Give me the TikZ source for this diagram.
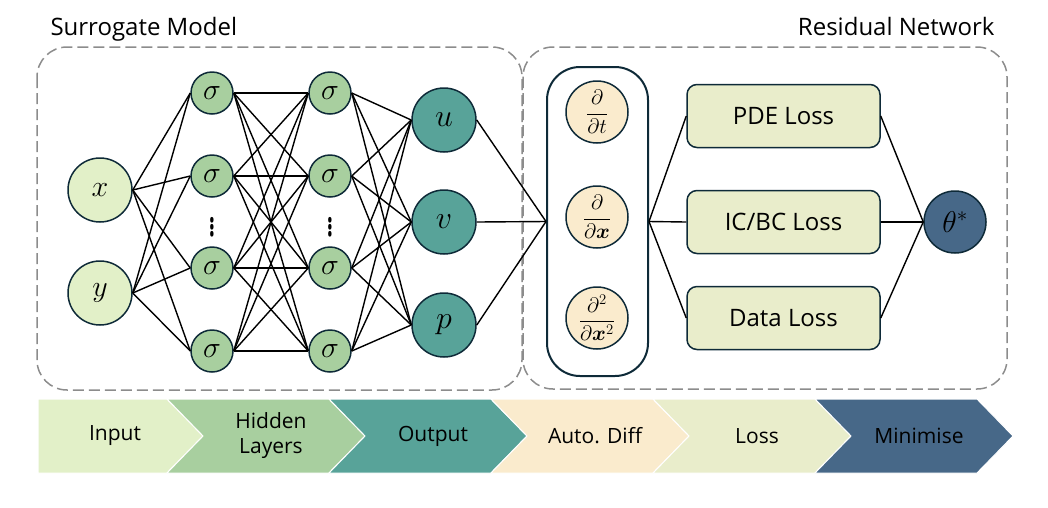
\RequirePackage{fix-cm}
\documentclass[tikz,border=0pt]{standalone}
\usepackage{amssymb}
\usepackage{amsmath}
\usepackage{bm}
\usepackage[no-math]{fontspec}
\setmainfont{Open Sans}
\usepackage{tikz}

\definecolor{inputfill}{HTML}{E2F0C8}
\definecolor{hiddenfill}{HTML}{A8CF9F}
\definecolor{outputfill}{HTML}{58A399}
\definecolor{difffill}{HTML}{FAEBCD}
\definecolor{lossfill}{HTML}{E9EDCB}
\definecolor{minfill}{HTML}{476888}
\definecolor{edgeline}{HTML}{0E2A38}
\definecolor{boxdash}{HTML}{8C8C8C}

\begin{document}
\begin{tikzpicture}[x=1pt,y=-1pt,
    neuron/.style={circle,draw=edgeline,line width=1.5pt,inner sep=0pt,
      font=\fontsize{30}{34}\selectfont},
    innode/.style={neuron,fill=inputfill,minimum size=64pt},
    hidnode/.style={neuron,fill=hiddenfill,minimum size=42pt},
    outnode/.style={neuron,fill=outputfill,minimum size=64pt,
      font=\fontsize{32}{36}\selectfont},
    dnode/.style={neuron,fill=difffill,minimum size=62pt,
      font=\fontsize{21}{24}\selectfont},
    lossbox/.style={rectangle,rounded corners=10pt,draw=edgeline,line width=1.5pt,
      fill=lossfill,minimum width=193pt,minimum height=63pt,
      font=\fontsize{24}{28}\selectfont},
    link/.style={line width=1.4pt},
    group/.style={draw=boxdash,line width=1.5pt,dash pattern=on 11pt off 5pt,
      rounded corners=30pt},
    title/.style={font=\fontsize{24}{28}\selectfont},
    stage/.style={align=center,font=\fontsize{21}{25}\selectfont}]
  \useasboundingbox (0,0) rectangle (1048,507);

  % dashed groups
  \draw[group] (37,47) rectangle (522,390);
  \draw[group] (523,47) rectangle (1007,389);
  \node[title,anchor=base west] (surrogate) at (47,35) {Surrogate Model};
  \node[title,anchor=base east] (residual) at (998,35) {Residual Network};

  % surrogate network
  \node[innode] (in1) at (100,190) {$x$};
  \node[innode] (in2) at (100,293) {$y$};
  \foreach \l/\xx in {1/212,2/330}{
    \foreach \i/\yy in {1/93,2/176,3/268,4/351}
      \node[hidnode] (h\l\i) at (\xx,\yy) {$\sigma$};
    \node[inner sep=0pt,font=\fontsize{24}{28}\selectfont] (dots\l) at (\xx,222)
      {\scalebox{1.2}[1.8]{$\vdots$}};
  }
  \node[outnode] (out1) at (444,120) {$u$};
  \node[outnode] (out2) at (444,222) {$v$};
  \node[outnode] (out3) at (444,325) {$p$};

  \foreach \i in {1,2}
    \foreach \j in {1,...,4}
      \draw[link] (in\i.east) -- (h1\j.west);
  \foreach \i in {1,...,4}
    \foreach \j in {1,...,4}
      \draw[link] (h1\i.east) -- (h2\j.west);
  \foreach \i in {1,...,4}
    \foreach \j in {1,2,3}
      \draw[link] (h2\i.east) -- (out\j.west);

  % residual network
  \node[draw=edgeline,line width=2pt,rounded corners=33pt,
    minimum width=101pt,minimum height=309pt] (autodiff) at (597.5,221.5) {};
  \node[dnode] (d1) at (597,112) {$\dfrac{\partial}{\partial t}$};
  \node[dnode] (d2) at (597,217) {$\dfrac{\partial}{\partial \bm{x}}$};
  \node[dnode] (d3) at (597,318) {$\dfrac{\partial^2}{\partial \bm{x}^2}$};

  \node[lossbox] (pde) at (783.5,116) {PDE Loss};
  \node[lossbox] (icbc) at (783.5,222) {IC/BC Loss};
  \node[lossbox] (data) at (783.5,318) {Data Loss};
  \node[neuron,fill=minfill,minimum size=62pt] (theta) at (955,222) {$\theta^*$};

  \foreach \j in {1,2,3}
    \draw[link] (out\j.east) -- (autodiff.west);
  \foreach \n in {pde,icbc,data}{
    \draw[link] (autodiff.east) -- (\n.west);
    \draw[link] (\n.east) -- (theta.west);
  }

  % stage bar
  \filldraw[fill=inputfill,draw=white,line width=1pt]
    (38,399) -- (167,399) -- (203,436) -- (167,473) -- (38,473) -- cycle;
  \node[stage] (input) at (115,436) {Input};
  \foreach \L/\col/\nm/\txt in {167/hiddenfill/hidden/{Hidden\\Layers},
      329/outputfill/output/Output,491/difffill/diff/Auto. Diff,
      653/lossfill/loss/Loss,815/minfill/minimise/Minimise}{
    \filldraw[fill=\col,draw=white,line width=1pt]
      (\L,399) -- ++(162,0) -- ++(36,37) -- ++(-36,37) -- ++(-162,0) -- ++(36,-37) -- cycle;
    \node[stage] (\nm) at (\L+104,436) {\txt};
  }
\end{tikzpicture}
\end{document}
